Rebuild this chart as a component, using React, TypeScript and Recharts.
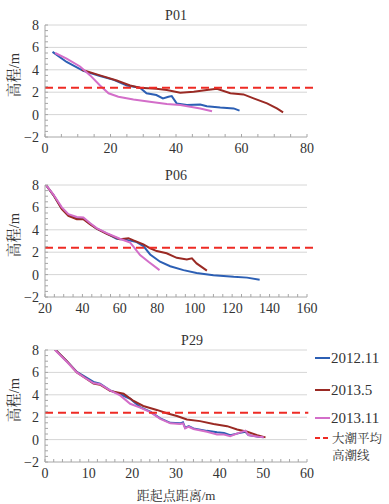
import React from 'react';
import { LineChart, Line, XAxis, YAxis, CartesianGrid, ReferenceLine, Legend } from 'recharts';

const FONT = "'Liberation Serif', 'Times New Roman', 'Noto Serif CJK SC', 'Noto Sans CJK SC', serif";

// Series labels
const SERIES_NAMES = ['2012.11', '2013.5', '2013.11'];
const MHHW_NAME = ['大潮平均', '高潮线'];
const COLORS = ['#2c5fb4', '#9a2a24', '#d36ec9'];
const MHHW_COLOR = '#ee2b24';
const MHHW = 2.4;

// P01
const p01BlueX = [2.3, 6.6, 11.7, 16.8, 21, 25, 29, 31, 34, 36, 37.7, 38.7, 40.2, 43.3, 47.4, 49.4, 53.5, 57.6, 59.4];
const p01BlueY = [5.6, 4.7, 3.9, 3.45, 3.1, 2.6, 2.4, 1.9, 1.75, 1.45, 1.6, 1.65, 1.0, 0.85, 0.9, 0.75, 0.63, 0.55, 0.35];
const p01RedX = [11.2, 16.8, 21.9, 26, 29, 34, 37.2, 41.3, 45.4, 49.4, 52.5, 56.6, 60.6, 63.7, 67.8, 70.8, 72.7];
const p01RedY = [4.0, 3.5, 3.05, 2.6, 2.4, 2.3, 2.2, 1.95, 2.05, 2.2, 2.3, 1.9, 1.8, 1.45, 1.0, 0.55, 0.2];
const p01PinkX = [3.1, 6.6, 10.7, 13.8, 16.8, 19.4, 22.4, 27, 32, 37.2, 41.3, 47.4, 51];
const p01PinkY = [5.5, 5.0, 4.3, 3.5, 2.6, 1.9, 1.6, 1.35, 1.15, 0.95, 0.85, 0.55, 0.3];

// P06
const p06BlueX = [20.5, 24.5, 29, 32.5, 37, 40.5, 44, 47.6, 53, 58.3, 63.7, 69, 72.6, 76.2, 81.5, 86.9, 94, 101, 110, 120.8, 128, 134.7];
const p06BlueY = [8, 7.1, 5.9, 5.3, 5.0, 5.0, 4.55, 4.1, 3.65, 3.2, 3.1, 2.9, 2.55, 1.8, 1.15, 0.75, 0.4, 0.15, -0.05, -0.2, -0.27, -0.45];
const p06RedX = [20.5, 24.5, 29, 32.5, 37, 40.5, 44, 47.6, 53, 60, 64.6, 67.3, 72.6, 76.2, 79.7, 85, 90.4, 95.8, 98.5, 101, 106.5];
const p06RedY = [8, 7.1, 5.85, 5.25, 4.95, 4.95, 4.5, 4.1, 3.65, 3.15, 3.25, 3.05, 2.7, 2.35, 2.1, 1.9, 1.5, 1.35, 1.45, 1.0, 0.35];
const p06PinkX = [20.5, 24.5, 29, 32.5, 37, 40.5, 44, 47.6, 53, 60, 65.5, 68, 70.8, 75.3, 81.2];
const p06PinkY = [8, 7.15, 6.0, 5.4, 5.15, 5.1, 4.6, 4.15, 3.7, 3.2, 2.85, 2.35, 1.75, 1.15, 0.4];

// P29
const p29BlueX = [2.3, 5, 7.3, 9.2, 11.1, 12.6, 14.9, 17.2, 19.5, 21.8, 24.1, 26.4, 28.7, 31, 31.6, 32.1, 32.9, 34, 37.1, 39.4, 41, 42.4, 44.7, 45.9, 46.6, 48.9, 50.1];
const p29BlueY = [8.05, 7.0, 6.05, 5.6, 5.15, 5.0, 4.4, 4.05, 3.65, 2.9, 2.5, 1.9, 1.5, 1.45, 1.55, 1.05, 1.2, 1.0, 0.78, 0.65, 0.6, 0.4, 0.6, 0.7, 0.4, 0.25, 0.2];
const p29RedX = [2.3, 5, 7.3, 9.2, 11.1, 12.6, 14.9, 18, 20.3, 22.5, 25.6, 27.9, 30.2, 32.5, 35.5, 38.6, 41.7, 44, 46.3, 48.6, 50.5];
const p29RedY = [8.05, 7.0, 6.0, 5.5, 5.0, 4.9, 4.35, 4.1, 3.45, 3.0, 2.65, 2.35, 2.1, 1.8, 1.65, 1.4, 1.2, 0.9, 0.7, 0.4, 0.2];
const p29PinkX = [2.3, 5, 7.3, 9.2, 11.1, 12.6, 14.9, 17.2, 19.5, 21.8, 24.1, 26.4, 28.7, 31, 31.6, 32.1, 32.9, 34, 37.1, 39.4, 41, 42.4, 44.7, 45.9, 46.6, 48.9, 50.1];
const p29PinkY = [8.0, 6.95, 6.0, 5.5, 5.05, 4.95, 4.4, 3.95, 3.2, 2.85, 2.45, 1.85, 1.45, 1.4, 1.45, 1.0, 1.15, 0.95, 0.7, 0.45, 0.45, 0.3, 0.65, 0.8, 0.4, 0.25, 0.2];

// Axis tick definitions
const Y_MAJOR = [-2, 0, 2, 4, 6, 8];
const Y_GRID = [0, 2, 4, 6, 8];
const TITLES = ['P01', 'P06', 'P29'];
const Y_LABEL = '高程/m';
const X_LABEL = '距起点距离/m';

const zip = (xs: number[], ys: number[]) => xs.map((x, i) => ({ x, y: ys[i] }));

const range = (a: number, b: number, s: number) => {
  const out: number[] = [];
  for (let v = a; v <= b + 1e-9; v += s) out.push(Math.round(v * 1000) / 1000);
  return out;
};

const isMajor = (v: number, step: number, base: number) => Math.abs(((v - base) / step) - Math.round((v - base) / step)) < 1e-6;

const fmt = (v: number) => (v < 0 ? '\u2212' + Math.abs(v) : String(v));

type PanelProps = {
  top: number;
  height: number;
  xBottom: number;
  domain: [number, number];
  majorStep: number;
  minorStep: number;
  series: { x: number; y: number }[][];
  mhhwEnd: number;
  legend?: boolean;
};

const LegendBox = () => (
  <svg width={76} height={125} style={{ overflow: 'visible', fontFamily: FONT }}>
    {SERIES_NAMES.map((n, i) => {
      const yy = [18, 50, 78][i];
      return (
        <g key={n}>
          <line x1={2} x2={17} y1={yy} y2={yy} stroke={COLORS[i]} strokeWidth={2} />
          <text x={18} y={yy + 5} fontSize={15} fill="#333">{n}</text>
        </g>
      );
    })}
    <line x1={2} x2={17} y1={98} y2={98} stroke={MHHW_COLOR} strokeWidth={2} strokeDasharray="5 3" />
    <text x={19} y={103} fontSize={12.5} fill="#333">{MHHW_NAME[0]}</text>
    <text x={19} y={120} fontSize={12.5} fill="#333">{MHHW_NAME[1]}</text>
  </svg>
);

const Panel = ({ top, height, xBottom, domain, majorStep, minorStep, series, mhhwEnd, legend }: PanelProps) => {
  const xTicks = range(domain[0], domain[1], minorStep);
  const yTicks = range(-2, 8, 0.5);
  const XTick = (props: any) => {
    const { x, y, payload } = props;
    const v = payload.value;
    const major = isMajor(v, majorStep, domain[0]);
    return (
      <g>
        <line x1={x} x2={x} y1={y} y2={y - 3} stroke="#a6a6a6" strokeWidth={1} />
        {major && (
          <text x={x} y={y + 16} textAnchor="middle" fontSize={14} fill="#333" fontFamily={FONT}>
            {fmt(v)}
          </text>
        )}
      </g>
    );
  };
  const YTick = (props: any) => {
    const { x, y, payload } = props;
    const v = payload.value;
    const major = Y_MAJOR.some((m) => Math.abs(m - v) < 1e-6);
    return (
      <g>
        <line x1={x} x2={x + 3} y1={y} y2={y} stroke="#a6a6a6" strokeWidth={1} />
        {major && (
          <text x={x - 6} y={y + 5} textAnchor="end" fontSize={14} fill="#333" fontFamily={FONT}>
            {fmt(v)}
          </text>
        )}
      </g>
    );
  };
  return (
    <div style={{ position: 'absolute', left: 0, top, width: 389, height }}>
      <LineChart width={389} height={height} margin={{ top: 25, right: 82, bottom: 0, left: 15 }}>
        <CartesianGrid vertical={false} horizontalValues={Y_GRID} stroke="#d6d6d6" />
        <XAxis
          type="number"
          dataKey="x"
          domain={domain}
          ticks={xTicks}
          interval={0}
          tickSize={0}
          tickMargin={0}
          tickLine={false}
          axisLine={{ stroke: '#a6a6a6' }}
          tick={XTick}
          height={xBottom}
          allowDataOverflow
        />
        <YAxis
          type="number"
          domain={[-2, 8]}
          ticks={yTicks}
          interval={0}
          tickSize={0}
          tickMargin={0}
          tickLine={false}
          axisLine={{ stroke: '#a6a6a6' }}
          tick={YTick}
          width={30}
          allowDataOverflow
        />
        {series.map((d, i) => (
          <Line
            key={SERIES_NAMES[i]}
            name={SERIES_NAMES[i]}
            data={d}
            dataKey="y"
            type="linear"
            stroke={COLORS[i]}
            strokeWidth={2}
            dot={false}
            activeDot={false}
            isAnimationActive={false}
          />
        ))}
        <ReferenceLine
          segment={[{ x: domain[0], y: MHHW }, { x: mhhwEnd, y: MHHW }]}
          stroke={MHHW_COLOR}
          strokeWidth={2}
          strokeDasharray="8 5"
          ifOverflow="visible"
        />
        {legend && (
          <Legend
            layout="vertical"
            align="center"
            verticalAlign="middle"
            wrapperStyle={{ left: 313, top: 15, width: 76, height: 125 }}
            content={() => <LegendBox />}
          />
        )}
      </LineChart>
    </div>
  );
};

export default function App() {
  return (
    <div style={{ position: 'absolute', left: 0, top: 0, width: 389, height: 504, background: '#fff', fontFamily: FONT }}>
      <Panel
        top={0}
        height={160}
        xBottom={23}
        domain={[0, 80]}
        majorStep={20}
        minorStep={5}
        series={[zip(p01BlueX, p01BlueY), zip(p01RedX, p01RedY), zip(p01PinkX, p01PinkY)]}
        mhhwEnd={82.4}
      />
      <Panel
        top={160}
        height={160}
        xBottom={23}
        domain={[20, 160]}
        majorStep={20}
        minorStep={5}
        series={[zip(p06BlueX, p06BlueY), zip(p06RedX, p06RedY), zip(p06PinkX, p06PinkY)]}
        mhhwEnd={164.3}
      />
      <Panel
        top={325}
        height={179}
        xBottom={42}
        domain={[0, 60]}
        majorStep={10}
        minorStep={2}
        series={[zip(p29BlueX, p29BlueY), zip(p29RedX, p29RedY), zip(p29PinkX, p29PinkY)]}
        mhhwEnd={60.3}
        legend
      />
      <svg width={389} height={504} style={{ position: 'absolute', left: 0, top: 0, pointerEvents: 'none', fontFamily: FONT }}>
        <text x={176} y={20} textAnchor="middle" fontSize={14} fill="#333">{TITLES[0]}</text>
        <text x={176} y={180} textAnchor="middle" fontSize={14} fill="#333">{TITLES[1]}</text>
        <text x={192} y={345} textAnchor="middle" fontSize={14} fill="#333">{TITLES[2]}</text>
        {[75, 235, 400].map((cy) => (
          <text key={cy} x={0} y={0} transform={`translate(19, ${cy}) rotate(-90)`} textAnchor="middle" fontSize={14.5} fill="#333">
            {Y_LABEL}
          </text>
        ))}
        <text x={176} y={500} textAnchor="middle" fontSize={13} fill="#333">{X_LABEL}</text>
      </svg>
    </div>
  );
}
